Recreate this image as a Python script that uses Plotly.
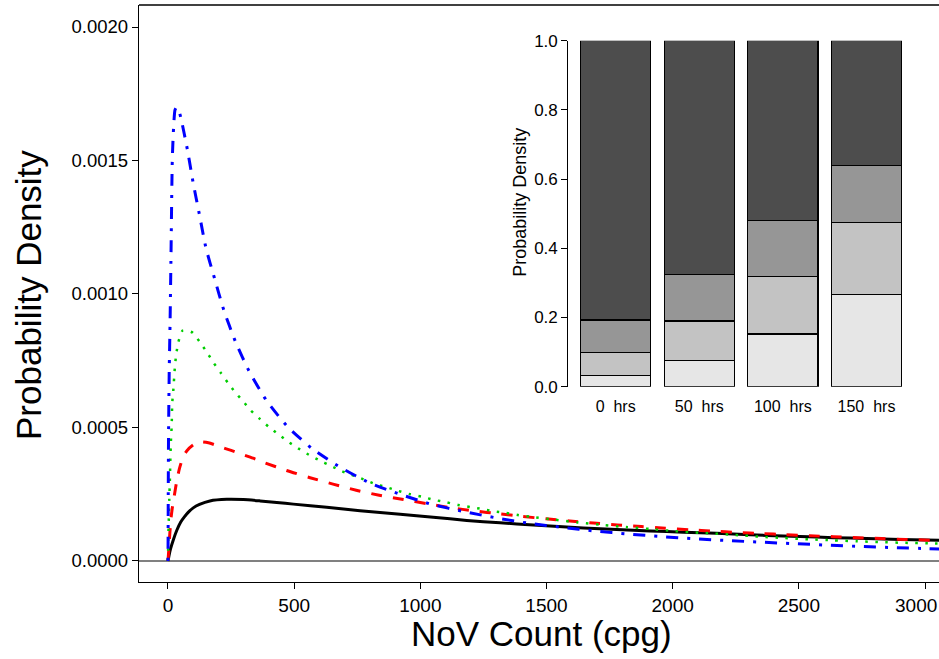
import plotly.graph_objects as go

# ---------------- main chart data ----------------
black_x = [0, 4, 10, 21, 35, 50, 65, 80, 100, 125, 166, 233, 299, 365, 431, 497, 629, 761, 920,
           1051, 1184, 1316, 1448, 1580, 1712, 1844, 1976, 2108, 2240, 2373, 2505, 2637, 2769, 2901, 3060]
black_y = [0, 0.00002, 0.000045, 0.000079, 0.000115, 0.000145, 0.000165, 0.000182, 0.000199, 0.000212,
           0.000225, 0.000231, 0.00023, 0.000225, 0.000219, 0.000213, 0.000201, 0.000188, 0.000175,
           0.000164, 0.000152, 0.000143, 0.000135, 0.000127, 0.000121, 0.000115, 0.00011, 0.000106,
           0.000101, 0.0000955, 0.0000915, 0.0000875, 0.000084, 0.0000808, 0.0000772]

red_x = [0, 3, 7, 12, 18, 25, 33, 45, 60, 75, 100, 127, 160, 206, 250, 292, 337, 383, 470, 563, 654,
         746, 837, 933, 1025, 1118, 1217, 1311, 1404, 1498, 1592, 1686, 1780, 1876, 1971, 2066, 2161,
         2256, 2353, 2448, 2542, 2637, 2732, 2828, 2923, 3020, 3060]
red_y = [0, 0.00004, 0.0001, 0.00016, 0.000205, 0.000245, 0.00029, 0.000345, 0.00039, 0.000413,
         0.000435, 0.000446, 0.000443, 0.000428, 0.000414, 0.0004, 0.000385, 0.000368, 0.000339,
         0.000312, 0.000288, 0.000265, 0.000246, 0.00023, 0.000215, 0.0002, 0.000187, 0.000177,
         0.000167, 0.000158, 0.00015, 0.000142, 0.000135, 0.000129, 0.000123, 0.000117, 0.000112,
         0.000107, 0.000103, 0.0000985, 0.0000947, 0.000091, 0.0000874, 0.0000838, 0.0000808,
         0.000078, 0.0000768]

green_x = [0, 1.3, 4, 5, 6.6, 8, 9, 12, 14.5, 17, 21, 27.7, 33, 41, 58, 80, 98, 127, 154, 181, 209,
           237, 266, 297, 326, 363, 400, 438, 476, 516, 558, 600, 644, 688, 777, 822, 868, 914, 960,
           1008, 1054, 1102, 1149, 1197, 1244, 1292, 1340, 1387, 1435, 1530, 1625, 1720, 1815, 1910,
           2005, 2102, 2155, 2250, 2346, 2441, 2538, 2634, 2729, 2826, 2923, 3019, 3060]
green_y = [0, 0.00009, 0.000185, 0.00023, 0.000276, 0.00032, 0.000366, 0.000458, 0.000503, 0.000594,
           0.000638, 0.000731, 0.000776, 0.00082, 0.000863, 0.000862, 0.000855, 0.000819, 0.000782,
           0.000742, 0.000705, 0.000668, 0.000632, 0.000599, 0.000566, 0.000533, 0.000502, 0.000474,
           0.000447, 0.000422, 0.000398, 0.000377, 0.000357, 0.000337, 0.000305, 0.000288, 0.000276,
           0.000262, 0.00025, 0.00024, 0.000229, 0.00022, 0.00021, 0.000202, 0.000195, 0.000186,
           0.00018, 0.000172, 0.000166, 0.000155, 0.000144, 0.000135, 0.000127, 0.00012, 0.000112,
           0.000106, 0.000103, 0.0000974, 0.000091, 0.0000861, 0.0000811, 0.0000775, 0.0000737,
           0.0000705, 0.000068, 0.0000658, 0.0000648]

blue_x = [0, 0.5, 1, 2, 3.5, 5, 8, 12, 17, 22, 28, 35, 42, 51, 77, 99, 124, 151, 184, 221, 268, 322,
          391, 475, 571, 681, 798, 920, 1045, 1174, 1303, 1432, 1563, 1694, 1824, 1955, 2086, 2218,
          2348, 2479, 2611, 2743, 2875, 3007, 3060]
blue_y = [0, 0.0001, 0.00025, 0.00045, 0.0006, 0.00072, 0.00088, 0.00115, 0.0015, 0.00162, 0.00169,
          0.0017, 0.00169, 0.00166, 0.00154, 0.00142, 0.0013, 0.00117, 0.00106, 0.00094, 0.00082,
          0.00071, 0.0006, 0.000502, 0.000421, 0.000352, 0.000293, 0.00025, 0.000212, 0.000185,
          0.000161, 0.000141, 0.000126, 0.000112, 0.000101, 0.0000915, 0.0000835, 0.0000765,
          0.0000705, 0.000065, 0.0000595, 0.0000545, 0.00005, 0.0000465, 0.0000452]

x_ticks = [0, 500, 1000, 1500, 2000, 2500, 3000]
y_ticks = [0, 0.0005, 0.0010, 0.0015, 0.0020]

# ---------------- inset data ----------------
hours = ["0", "50", "100", "150"]
seg1 = [0.032, 0.075, 0.152, 0.267]   # lightest (bottom)
seg2 = [0.067, 0.115, 0.167, 0.208]
seg3 = [0.094, 0.134, 0.162, 0.164]
seg4 = [0.807, 0.676, 0.519, 0.361]   # darkest (top)
seg_colors = ["#E6E6E6", "#C3C3C3", "#969696", "#4D4D4D"]
inset_y_ticks = [0, 0.2, 0.4, 0.6, 0.8, 1.0]

FONT = "Liberation Sans, Arial, sans-serif"
XTICK_SIZE = 19

fig = go.Figure()

def add_curve(xs, ys, color, dash, width):
    fig.add_trace(go.Scatter(x=xs, y=ys, mode="lines",
                             line=dict(color=color, width=width, dash=dash, shape="spline", smoothing=0.6),
                             showlegend=False, hoverinfo="skip"))

add_curve(black_x, black_y, "#000000", "solid", 3)
add_curve(red_x, red_y, "#FF0000", "11px,11px", 3)
add_curve(green_x, green_y, "#00CD00", "2.5px,7.5px", 2.5)
add_curve(blue_x, blue_y, "#0000FF", "3px,9px,12px,9px", 3)

bar_pos = list(range(len(hours)))
for seg, col in zip([seg1, seg2, seg3, seg4], seg_colors):
    fig.add_trace(go.Bar(x=bar_pos, y=seg, width=0.838, marker=dict(color=col, line=dict(color="#000000", width=1.2)),
                         xaxis="x2", yaxis="y2", showlegend=False, hoverinfo="skip"))

# the last x tick label sits at the right edge of the page: draw it as a right-aligned annotation
x_ticktext = [str(v) for v in x_ticks[:-1]] + [""]
last_label = dict(text=str(x_ticks[-1]), xref="paper", yref="paper", x=1.0, y=0,
                  xanchor="right", yanchor="top", yshift=-11, showarrow=False,
                  font=dict(size=XTICK_SIZE, family=FONT))

fig.update_layout(
    width=939, height=659,
    margin=dict(l=139, r=0, t=5, b=77, autoexpand=False),
    paper_bgcolor="white", plot_bgcolor="white",
    barmode="stack", showlegend=False,
    font=dict(family=FONT, color="#000000"),
    xaxis=dict(range=[-114.9, 3055.5], tickvals=x_ticks, ticktext=x_ticktext,
               automargin=False,
               showgrid=False, zeroline=False, showline=True, linecolor="#000000", linewidth=1.3,
               ticks="outside", ticklen=6, tickcolor="#000000", tickwidth=1,
               tickfont=dict(size=XTICK_SIZE, family=FONT)),
    yaxis=dict(range=[-0.0000787, 0.0020824], tickvals=y_ticks, ticktext=["%.4f" % v for v in y_ticks],
               automargin=False,
               showgrid=False, zeroline=True, zerolinecolor="#808080", zerolinewidth=1.5,
               showline=True, linecolor="#000000", linewidth=1.3,
               ticks="outside", ticklen=6, tickcolor="#000000", tickwidth=1,
               tickfont=dict(size=18.5, family=FONT)),
    xaxis2=dict(domain=[0.5366, 0.9616], range=[-0.567, 3.5], anchor="y2", automargin=False,
                tickvals=bar_pos, ticktext=[h + "\u00a0\u00a0hrs" for h in hours],
                showgrid=False, zeroline=False, showline=False,
                ticks="outside", ticklen=5, tickcolor="rgba(0,0,0,0)",
                tickfont=dict(size=16, family=FONT)),
    yaxis2=dict(domain=[0.3385, 0.9381], range=[0, 1], anchor="x2", automargin=False,
                tickvals=inset_y_ticks, ticktext=["%.1f" % v for v in inset_y_ticks],
                showgrid=False, zeroline=False, showline=True, linecolor="#000000", linewidth=1.2,
                ticks="outside", ticklen=6, tickcolor="#000000", tickwidth=1,
                tickfont=dict(size=17, family=FONT)),
    shapes=[dict(type="line", xref="paper", yref="paper", x0=0, x1=1, y0=1, y1=1,
                 line=dict(color="#000000", width=1.3))],
    annotations=[
        last_label,
        dict(text="NoV Count (cpg)", xref="paper", yref="paper", x=0.5025, y=-0.0901,
             xanchor="center", yanchor="middle", showarrow=False, font=dict(size=35, family=FONT)),
        dict(text="Probability Density", xref="paper", yref="paper", x=-0.13875, y=0.4974,
             xanchor="center", yanchor="middle", textangle=-90, showarrow=False,
             font=dict(size=35, family=FONT)),
        dict(text="Probability Density", xref="paper", yref="paper", x=0.476, y=0.6586,
             xanchor="center", yanchor="middle", textangle=-90, showarrow=False,
             font=dict(size=18, family=FONT)),
    ],
)

fig.write_html("out.html")
